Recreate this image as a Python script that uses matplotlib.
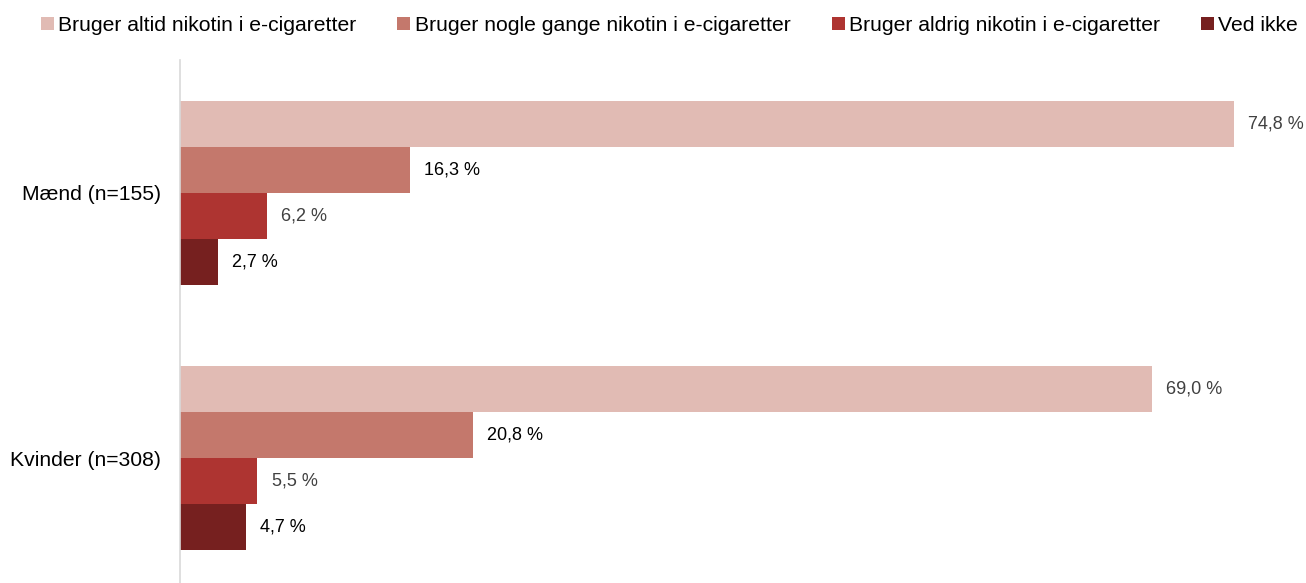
import matplotlib.pyplot as plt
import numpy as np

plt.rcParams['font.family'] = ['Liberation Sans', 'DejaVu Sans']

groups = ['Mænd (n=155)', 'Kvinder (n=308)']
series = ['Bruger altid nikotin i e-cigaretter',
          'Bruger nogle gange nikotin i e-cigaretter',
          'Bruger aldrig nikotin i e-cigaretter',
          'Ved ikke']
values = [
    [74.8, 69.0],
    [16.3, 20.8],
    [6.2, 5.5],
    [2.7, 4.7],
]
colors = ['#E1BBB4', '#C4786C', '#AE3431', '#76201F']
label_colors = ['#404040', '#000000', '#404040', '#000000']

fig = plt.figure(figsize=(13.06, 5.83), dpi=100)
ax = fig.add_axes([180 / 1306, 0, 1120 / 1306, 523 / 583])

ypos = np.array([1, 0])
h = 0.1735
for i, (name, vals) in enumerate(zip(series, values)):
    y = ypos + (1.5 - i) * h
    ax.barh(y, vals, height=h, color=colors[i], label=name)
    for yy, v in zip(y, vals):
        ax.text(v + 1.0, yy, f'{v:.1f} %'.replace('.', ','),
                va='center', ha='left', fontsize=13, color=label_colors[i])

ax.set_xlim(0, 1120 / 14.09)
ax.set_ylim(-0.47, 1.50)
ax.set_yticks(ypos)
ax.set_yticklabels(groups, fontsize=15.2)
ax.tick_params(axis='y', length=0, pad=14)
ax.set_xticks([])
for s in ['top', 'right', 'bottom']:
    ax.spines[s].set_visible(False)
ax.spines['left'].set_color('#D9D9D9')
ax.spines['left'].set_linewidth(1.2)

fig.legend(loc='upper center', bbox_to_anchor=(0.5125, 0.998), ncol=4, frameon=False,
           prop={'size': 15.2}, handlelength=0.62, handleheight=0.62, handletextpad=0.2,
           columnspacing=1.95, borderaxespad=0.3)

fig.savefig('out.png', dpi=100)
